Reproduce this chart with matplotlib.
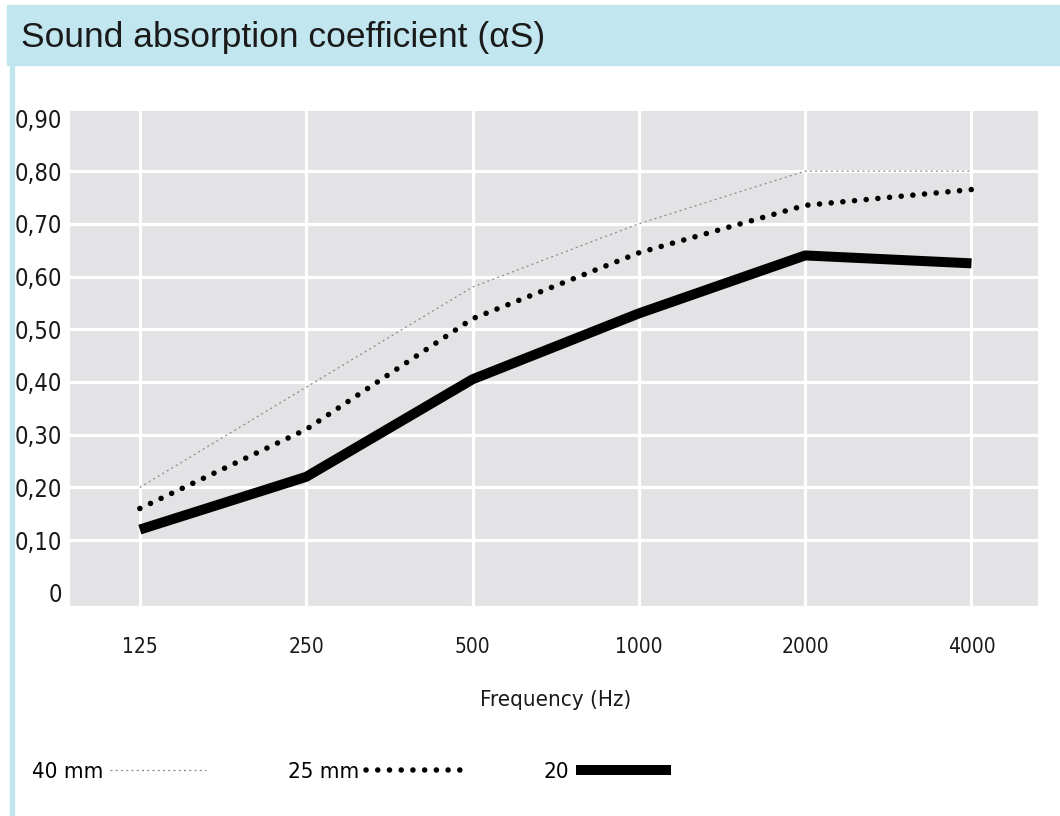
import matplotlib.pyplot as plt
from matplotlib.patches import Rectangle
from matplotlib.lines import Line2D
from matplotlib import font_manager

# data
freqs = ['125', '250', '500', '1000', '2000', '4000']
yticks = [0, 0.1, 0.2, 0.3, 0.4, 0.5, 0.6, 0.7, 0.8, 0.9]
ytick_labels = ['0', '0,10', '0,20', '0,30', '0,40', '0,50', '0,60', '0,70', '0,80', '0,90']
a40 = [0.20, 0.39, 0.58, 0.70, 0.80, 0.80]
a25 = [0.16, 0.31, 0.52, 0.645, 0.735, 0.765]
a20 = [0.12, 0.22, 0.405, 0.53, 0.64, 0.625]

blue = '#c1e6ef'
W, H = 1060, 816

# condensed face for the tick / legend text, if one is installed
names = {f.name for f in font_manager.fontManager.ttflist}
cond = [n for n in ['Liberation Sans Narrow', 'DejaVu Sans Condensed'] if n in names]


def nfont(size):
    if cond:
        return dict(family=[cond[0], 'DejaVu Sans'], size=size)
    return dict(family=['DejaVu Sans'], stretch='condensed', size=size)


fig = plt.figure(figsize=(W / 100, H / 100), dpi=100)

# title bar and left rule
fig.patches.append(Rectangle((7 / W, 1 - 65 / H), 1 - 7 / W, 60 / H,
                             transform=fig.transFigure, color=blue, zorder=0))
fig.patches.append(Rectangle((10 / W, 0), 4 / W, 1 - 65 / H,
                             transform=fig.transFigure, color=blue, zorder=0))
fig.text(21 / W, 1 - 47 / H, 'Sound absorption coefficient (\u03b1S)',
         fontsize=25.5, family=['Liberation Sans', 'DejaVu Sans'],
         color='#1a1a1a', va='baseline', ha='left')

ax = fig.add_axes([70 / W, 1 - 606 / H, (1038 - 70) / W, (606 - 111) / H])
ax.set_facecolor('#e3e3e5')
for s in ax.spines.values():
    s.set_visible(False)

x = list(range(len(freqs)))
for xi in x:
    ax.axvline(xi, color='white', lw=2.3, zorder=1)
for yv in yticks[1:-1]:
    ax.axhline(yv, color='white', lw=2.3, zorder=1)

ax.plot(x, a40, color='#8a8a8a', lw=0.9, linestyle=(0, (1.6, 2.6)), zorder=3)
ax.plot(x, a25, color='black', lw=4.0, linestyle=(0, (0.01, 2.1)),
        dash_capstyle='round', zorder=3)
ax.plot(x, a20, color='black', lw=7.2, solid_joinstyle='round',
        solid_capstyle='butt', zorder=4)

ax.set_xlim(-0.42, 5.4)
ax.set_ylim(-0.025, 0.914)
ax.set_xticks(x)
ax.set_xticklabels(freqs, color='#1a1a1a', **nfont(15))
ax.set_yticks(yticks)
ax.set_yticklabels(ytick_labels, color='#1a1a1a', **nfont(17))
ax.tick_params(axis='x', length=0, pad=22)
ax.tick_params(axis='y', length=0, pad=6)

fig.text(556 / W, 1 - 700 / H, 'Frequency (Hz)', color='#1a1a1a',
         ha='center', va='center', **nfont(16))

handles = [Line2D([], [], color='#8a8a8a', lw=0.9, linestyle=(0, (1.6, 2.6))),
           Line2D([], [], color='black', lw=4.0, linestyle=(0, (0.01, 2.1)),
                  dash_capstyle='round'),
           Line2D([], [], color='black', lw=7.2, solid_capstyle='butt')]
fig.legend(handles, ['40 mm', '25 mm', '20'], loc='center left',
           bbox_to_anchor=(32 / W, 1 - 772 / H), ncol=3, frameon=False,
           markerfirst=False, handlelength=4.3, handletextpad=0.3,
           columnspacing=3.7, borderpad=0, borderaxespad=0,
           prop=nfont(16))

fig.savefig('out.png', dpi=100, facecolor='white')
